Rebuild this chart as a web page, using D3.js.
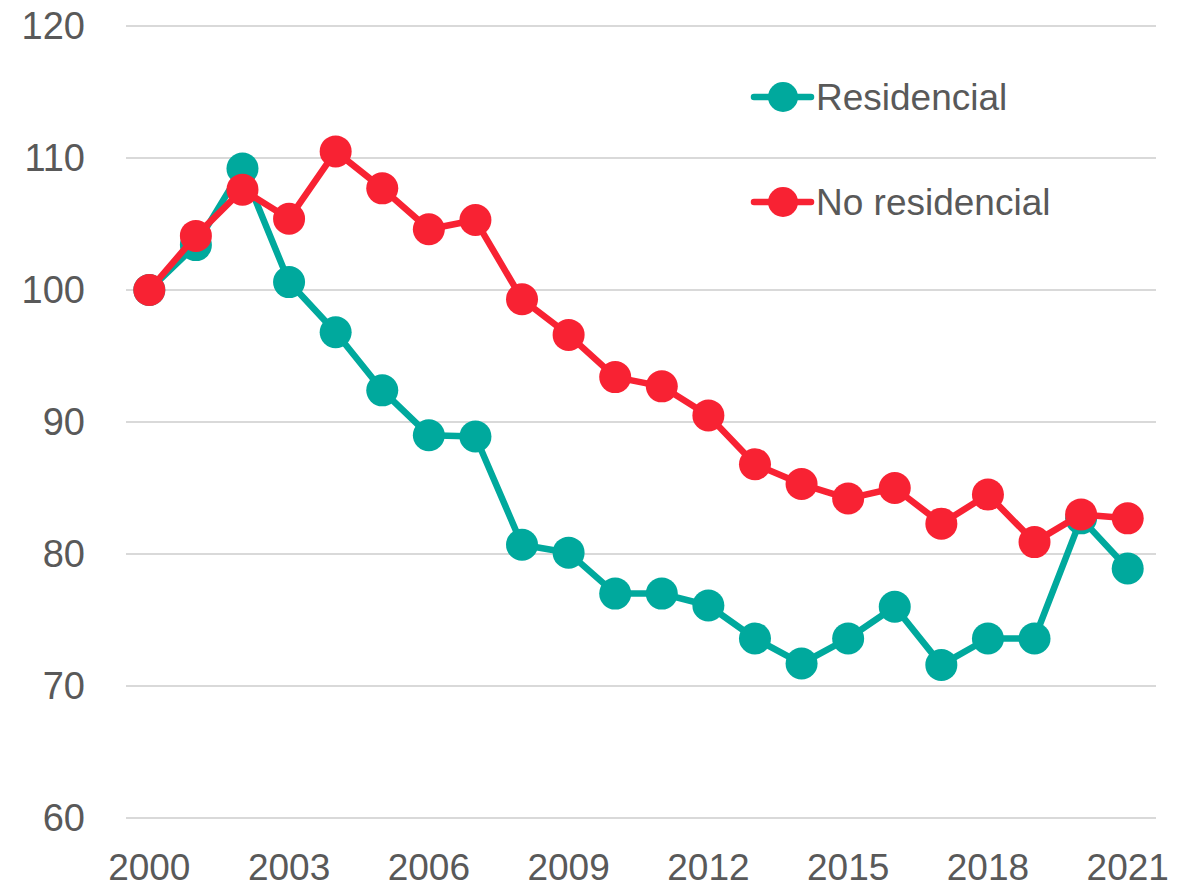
<!DOCTYPE html>
<html>
<head>
<meta charset="utf-8">
<script src="https://cdn.jsdelivr.net/npm/d3@7"></script>
<style>
    body { margin: 0; background: #fff; }
    text { font-family: "Liberation Sans", Arial, sans-serif; fill: #595959; }
</style>
</head>
<body>
<div id="chart"></div>
<script>
const years = d3.range(2000, 2022);
const residencial = [100, 103.4, 109.2, 100.6, 96.8, 92.4, 89.0, 88.9, 80.7, 80.1, 77.0,
    77.0, 76.1, 73.6, 71.7, 73.6, 76.0, 71.6, 73.6, 73.6, 82.7, 78.9];
const noResidencial = [100, 104.1, 107.6, 105.4, 110.5, 107.7, 104.6, 105.3, 99.3, 96.6, 93.4,
    92.7, 90.5, 86.8, 85.3, 84.2, 85.0, 82.3, 84.5, 80.9, 83.0, 82.7];
const yTicks = [60, 70, 80, 90, 100, 110, 120];
const xTickYears = [2000, 2003, 2006, 2009, 2012, 2015, 2018, 2021];

const seriesList = [
    { name: "Residencial", values: residencial, color: "#00A99D" },
    { name: "No residencial", values: noResidencial, color: "#F82233" }
];

const ctx = { WIDTH: 1180, HEIGHT: 892 };
const plot = { left: 126, right: 1156, top: 26, bottom: 818 };

const svg = d3.select('#chart').append('svg')
    .attr('width', ctx.WIDTH)
    .attr('height', ctx.HEIGHT);

const xScale = d3.scaleBand()
    .domain(years)
    .range([plot.left, plot.right - 5]);

const yScale = d3.scaleLinear()
    .domain([60, 120])
    .range([plot.bottom, plot.top]);

const cx = y => xScale(y) + xScale.bandwidth() / 2;

// gridlines
svg.append('g')
    .selectAll('line')
    .data(yTicks)
    .enter()
    .append('line')
    .attr('x1', plot.left)
    .attr('x2', plot.right)
    .attr('y1', d => yScale(d))
    .attr('y2', d => yScale(d))
    .attr('stroke', '#d9d9d9')
    .attr('stroke-width', 2);

// y axis labels
const yAxis = svg.append('g')
    .attr('transform', `translate(${plot.left - 10}, 0)`)
    .call(d3.axisLeft(yScale).tickValues(yTicks).tickSize(0).tickPadding(31));
yAxis.select('.domain').remove();
yAxis.selectAll('text').style('font-size', '38px').attr('fill', '#595959');

// x axis labels
const xAxis = svg.append('g')
    .attr('transform', `translate(0, ${plot.bottom})`)
    .call(d3.axisBottom(xScale).tickValues(xTickYears).tickSize(0).tickPadding(36));
xAxis.select('.domain').remove();
xAxis.selectAll('text').style('font-size', '37px').attr('fill', '#595959');

const line = d3.line()
    .x((d, i) => cx(years[i]))
    .y(d => yScale(d));

seriesList.forEach(s => {
    const g = svg.append('g');
    g.append('path')
        .datum(s.values)
        .attr('fill', 'none')
        .attr('stroke', s.color)
        .attr('stroke-width', 6.5)
        .attr('stroke-linejoin', 'round')
        .attr('d', line);
    g.selectAll('circle')
        .data(s.values)
        .enter()
        .append('circle')
        .attr('cx', (d, i) => cx(years[i]))
        .attr('cy', d => yScale(d))
        .attr('r', 16)
        .attr('fill', s.color);
});

// legend
const legend = svg.append('g').attr('transform', 'translate(754, 97)');
seriesList.forEach((s, i) => {
    const row = legend.append('g').attr('transform', `translate(0, ${i * 105})`);
    row.append('line')
        .attr('x1', 0).attr('x2', 57)
        .attr('stroke', s.color)
        .attr('stroke-width', 6.5)
        .attr('stroke-linecap', 'round');
    row.append('circle')
        .attr('cx', 29)
        .attr('r', 15)
        .attr('fill', s.color);
    row.append('text')
        .attr('x', 62)
        .attr('dy', '0.35em')
        .style('font-size', '37px')
        .text(s.name);
});
</script>
</body>
</html>
